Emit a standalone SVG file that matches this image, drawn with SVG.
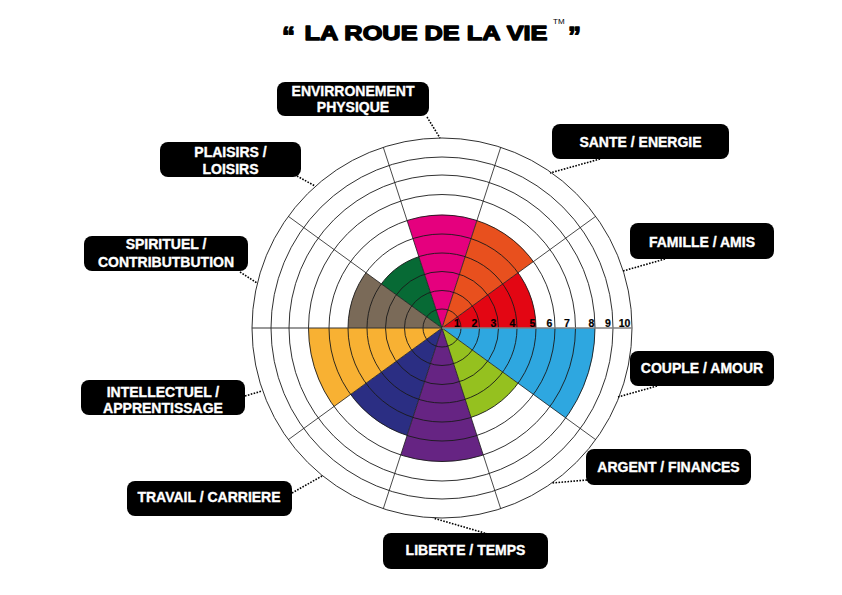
<svg xmlns="http://www.w3.org/2000/svg" width="842" height="595" viewBox="0 0 842 595">
<style>
.ring{fill:none;stroke:#1a1a1a;stroke-width:0.9}
.spoke{stroke:#1a1a1a;stroke-width:0.8}
.box{fill:#000}
.lbl{font-family:"Liberation Sans",Arial,sans-serif;font-weight:bold;font-size:14px;fill:#fff;stroke:#fff;stroke-width:0.35;text-anchor:middle}
.num{font-family:"Liberation Sans",Arial,sans-serif;font-weight:bold;font-size:10.5px;fill:#000;stroke:#000;stroke-width:0.2;text-anchor:middle}
.conn{stroke:#000;stroke-width:1.6;stroke-dasharray:1.6 1.4;fill:none}
.title{font-family:"Liberation Sans",Arial,sans-serif;font-weight:bold;fill:#000;stroke:#000;stroke-width:1.3;stroke-linejoin:round}
</style>
<rect width="842" height="595" fill="#fff"/>
<g id="title">
<text class="title" x="282" y="45" font-size="26">“</text>
<text class="title" x="304.5" y="39.5" font-size="20.5" textLength="243" lengthAdjust="spacingAndGlyphs">LA ROUE DE LA VIE</text>
<text x="553" y="24" font-family="Liberation Sans,Arial,sans-serif" font-size="8" fill="#000">TM</text>
<text class="title" x="568" y="45" font-size="26">”</text>
</g>
<g id="wheel">
<g id="sectors">
<path d="M442,328 L407.08,220.53 A113,113 0 0 1 476.92,220.53 Z" fill="#e5007e"/>
<path d="M442,328 L476.92,220.53 A113,113 0 0 1 533.42,261.58 Z" fill="#e8501e"/>
<path d="M442,328 L518.05,272.75 A94,94 0 0 1 536,328 Z" fill="#e30613"/>
<path d="M442,328 L595,328 A153,153 0 0 1 565.78,417.93 Z" fill="#2ea7e0"/>
<path d="M442,328 L518.05,383.25 A94,94 0 0 1 471.05,417.40 Z" fill="#95c11f"/>
<path d="M442,328 L483.25,454.97 A133.5,133.5 0 0 1 400.75,454.97 Z" fill="#662483"/>
<path d="M442,328 L407.08,435.47 A113,113 0 0 1 350.58,394.42 Z" fill="#2b2e83"/>
<path d="M442,328 L334.00,406.47 A133.5,133.5 0 0 1 308.5,328 Z" fill="#f8b133"/>
<path d="M442,328 L348,328 A94,94 0 0 1 365.95,272.75 Z" fill="#7a6a58"/>
<path d="M442,328 L381.32,283.92 A75,75 0 0 1 418.82,256.67 Z" fill="#076a35"/>
</g>
<g id="rings">
<circle class="ring" cx="442" cy="328" r="19"/>
<circle class="ring" cx="442" cy="328" r="37.5"/>
<circle class="ring" cx="442" cy="328" r="56.5"/>
<circle class="ring" cx="442" cy="328" r="75"/>
<circle class="ring" cx="442" cy="328" r="94"/>
<circle class="ring" cx="442" cy="328" r="113"/>
<circle class="ring" cx="442" cy="328" r="133.5"/>
<circle class="ring" cx="442" cy="328" r="153"/>
<circle class="ring" cx="442" cy="328" r="171"/>
<circle class="ring" cx="442" cy="328" r="190"/>
</g>
<g id="spokes">
<line class="spoke" x1="442" y1="328" x2="500.71" y2="147.30"/>
<line class="spoke" x1="442" y1="328" x2="595.71" y2="216.32"/>
<line class="spoke" x1="442" y1="328" x2="595.71" y2="439.68"/>
<line class="spoke" x1="442" y1="328" x2="500.71" y2="508.70"/>
<line class="spoke" x1="442" y1="328" x2="383.29" y2="508.70"/>
<line class="spoke" x1="442" y1="328" x2="288.29" y2="439.68"/>
<line class="spoke" x1="442" y1="328" x2="288.29" y2="216.32"/>
<line class="spoke" x1="442" y1="328" x2="383.29" y2="147.30"/>
<line x1="252" y1="328" x2="442" y2="328" stroke="#333" stroke-width="1"/>
<line x1="442" y1="328" x2="632" y2="328" stroke="#808080" stroke-width="1.3"/>
</g>
<g id="scale">
<text class="num" x="457" y="326.5">1</text>
<text class="num" x="474.5" y="326.5">2</text>
<text class="num" x="493.3" y="326.5">3</text>
<text class="num" x="512.3" y="326.5">4</text>
<text class="num" x="532.5" y="326.5">5</text>
<text class="num" x="549.5" y="326.5">6</text>
<text class="num" x="567" y="326.5">7</text>
<text class="num" x="591.5" y="326.5">8</text>
<text class="num" x="607.8" y="326.5">9</text>
<text class="num" x="624.5" y="326.5">10</text>
</g>
</g>
<g id="connectors">
<line class="conn" x1="427" y1="117" x2="440" y2="138"/>
<line class="conn" x1="297" y1="176" x2="315" y2="186"/>
<line class="conn" x1="240" y1="272" x2="257" y2="283"/>
<line class="conn" x1="600" y1="159" x2="550" y2="173"/>
<line class="conn" x1="665" y1="259" x2="623" y2="271"/>
<line class="conn" x1="657" y1="386" x2="618" y2="397"/>
<line class="conn" x1="245" y1="396" x2="262" y2="391"/>
<line class="conn" x1="292" y1="493" x2="322" y2="476"/>
<line class="conn" x1="587" y1="480" x2="552" y2="483"/>
<line class="conn" x1="488" y1="534" x2="433" y2="518"/>
</g>
<g id="node-environnement">
<rect class="box" x="277" y="82" width="152" height="34" rx="8"/>
<text class="lbl" x="353" y="95.7">ENVIRRONEMENT</text>
<text class="lbl" x="353" y="112.3">PHYSIQUE</text>
</g>
<g id="node-plaisirs">
<rect class="box" x="160" y="142" width="141" height="35" rx="8"/>
<text class="lbl" x="230.5" y="156.7">PLAISIRS /</text>
<text class="lbl" x="230.5" y="174">LOISIRS</text>
</g>
<g id="node-spirituel">
<rect class="box" x="84" y="236" width="164" height="35" rx="8"/>
<text class="lbl" x="166" y="249">SPIRITUEL /</text>
<text class="lbl" x="166" y="266.7">CONTRIBUTBUTION</text>
</g>
<g id="node-sante">
<rect class="box" x="552" y="124" width="177" height="35" rx="8"/>
<text class="lbl" x="640.5" y="147.3">SANTE / ENERGIE</text>
</g>
<g id="node-famille">
<rect class="box" x="630" y="223" width="144" height="36" rx="8"/>
<text class="lbl" x="702" y="246.7">FAMILLE / AMIS</text>
</g>
<g id="node-couple">
<rect class="box" x="630" y="351" width="144" height="35" rx="8"/>
<text class="lbl" x="702" y="372.7">COUPLE / AMOUR</text>
</g>
<g id="node-intellectuel">
<rect class="box" x="81" y="380" width="164" height="35" rx="8"/>
<text class="lbl" x="163" y="396.7">INTELLECTUEL /</text>
<text class="lbl" x="163" y="413.3">APPRENTISSAGE</text>
</g>
<g id="node-travail">
<rect class="box" x="127" y="481" width="165" height="35" rx="8"/>
<text class="lbl" x="209" y="502.3">TRAVAIL / CARRIERE</text>
</g>
<g id="node-argent">
<rect class="box" x="586" y="449" width="165" height="36" rx="8"/>
<text class="lbl" x="668.5" y="471.7">ARGENT / FINANCES</text>
</g>
<g id="node-liberte">
<rect class="box" x="383" y="533" width="165" height="36" rx="8"/>
<text class="lbl" x="465.5" y="555">LIBERTE / TEMPS</text>
</g>
</svg>
